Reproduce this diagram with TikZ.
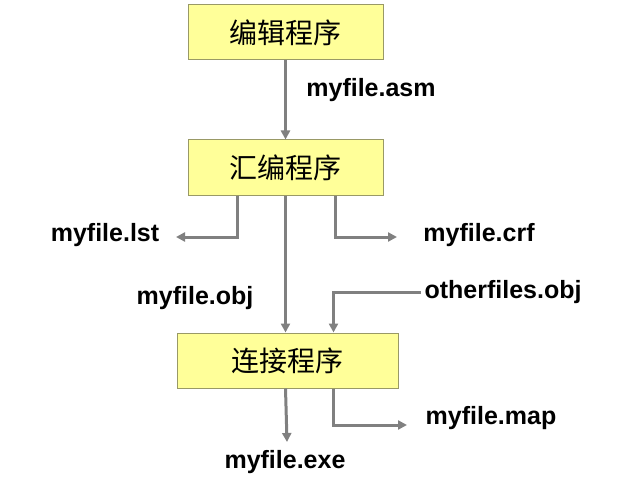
\documentclass[tikz,border=0pt]{standalone}
\usepackage{fontspec}
\setmainfont{Liberation Sans}
\newfontfamily\cjk{Noto Sans CJK SC}
\usetikzlibrary{positioning}
\usetikzlibrary{arrows.meta}
\definecolor{boxfill}{HTML}{FFFF99}
\definecolor{boxline}{HTML}{999966}
\definecolor{flowgray}{HTML}{808080}
\tikzset{
  program/.style={rectangle,draw=boxline,fill=boxfill,line width=1pt,
                  minimum height=55pt,font=\cjk\fontsize{28}{30}\selectfont},
  flow/.style={-{Triangle[length=9pt,width=9pt]},draw=flowgray,line width=3pt},
  filename/.style={font=\bfseries\fontsize{25}{27}\selectfont},
}
\begin{document}
\begin{tikzpicture}[x=1pt,y=-1pt]
    \useasboundingbox (0,0) rectangle (621,492);
    % Programs
    \node[program,minimum width=195pt] (edit) at (285.5,32.5) {编辑程序};
    \node[program,minimum width=195pt] (asm)  at (285.5,167.5) {汇编程序};
    \node[program,minimum width=221pt] (link) at (287.5,360.5) {连接程序};

    % File names
    \node[filename] (asmfile)   at (371,90)  {myfile.asm};
    \node[filename] (lstfile)   at (105,235) {myfile.lst};
    \node[filename] (crffile)   at (479,235) {myfile.crf};
    \node[filename] (objfile)   at (195,298) {myfile.obj};
    \node[filename] (otherfile) at (503,292) {otherfiles.obj};
    \node[filename] (exefile)   at (285,462) {myfile.exe};
    \node[filename] (mapfile)   at (491,418) {myfile.map};

    % Flows
    \coordinate (lstend) at (176,237);
    \coordinate (crfend) at (397,237);
    \coordinate (exeend) at (287,442);
    \coordinate (mapend) at (407,425);
    \draw[flow] (edit.south) -- (asm.south |- edit.south) -- (asm.north);
    \draw[flow] (asm.south) -- (link.north -| asm.south);
    \draw[flow] ([xshift=-48pt]asm.south) |- (lstend);
    \draw[flow] ([xshift=50pt]asm.south) |- (crfend);
    \draw[flow] (otherfile.west) -| ([xshift=48pt]link.north -| asm.south);
    \draw[flow] (link.south -| asm.south) -- (exeend);
    \draw[flow] ([xshift=48pt]link.south -| asm.south) |- (mapend);
\end{tikzpicture}
\end{document}
